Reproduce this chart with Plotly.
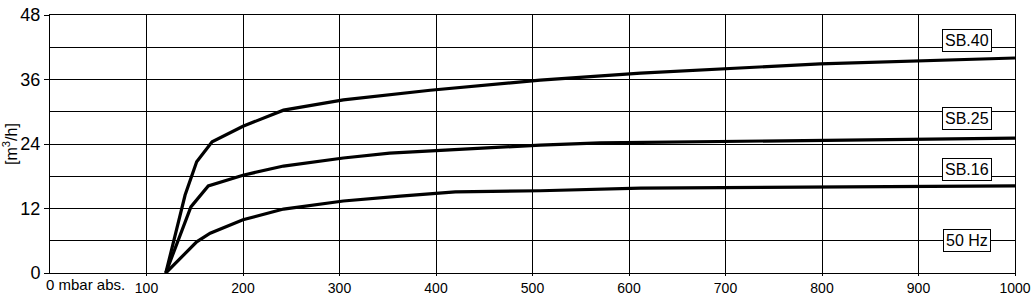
import plotly.graph_objects as go

# Data (pressure in mbar abs., flow in m3/h)
sb40_x = [120, 140, 152, 168, 200, 242, 304, 394, 508, 612, 798, 1000]
sb40_y = [0, 14.5, 20.7, 24.4, 27.3, 30.3, 32.2, 34.0, 35.9, 37.2, 38.9, 40.0]

sb25_x = [120, 146, 164, 200, 242, 304, 352, 508, 570, 1000]
sb25_y = [0, 12.3, 16.2, 18.2, 19.9, 21.4, 22.3, 23.8, 24.2, 25.1]

sb16_x = [120, 152, 166, 200, 242, 304, 363, 420, 508, 612, 1000]
sb16_y = [0, 5.8, 7.4, 9.9, 11.9, 13.4, 14.3, 15.1, 15.3, 15.8, 16.2]

labels = ["SB.40", "SB.25", "SB.16", "50 Hz"]
label_y = [43.3, 28.7, 19.2, 6.0]
label_x = 950

x_ticks = [100, 200, 300, 400, 500, 600, 700, 800, 900, 1000]
y_ticks = [0, 12, 24, 36, 48]

FONT = "Liberation Sans, Arial, sans-serif"
NARROW = "Liberation Sans Narrow, Arial Narrow, Liberation Sans, sans-serif"

fig = go.Figure()
for xs, ys in [(sb40_x, sb40_y), (sb25_x, sb25_y), (sb16_x, sb16_y)]:
    fig.add_trace(go.Scatter(x=xs, y=ys, mode="lines",
                             line=dict(color="black", width=3.2),
                             showlegend=False, hoverinfo="skip"))

for t, yy in zip(labels, label_y):
    fig.add_annotation(x=label_x, y=yy, text=t, showarrow=False,
                       font=dict(family=FONT, size=16, color="black"),
                       bgcolor="white", bordercolor="black", borderwidth=1, borderpad=2)

fig.add_annotation(x=0, y=0, xref="x", yref="y", text="0 mbar abs.",
                   showarrow=False, xanchor="left", yanchor="top",
                   xshift=-6, yshift=-1,
                   font=dict(family=FONT, size=15, color="black"))

fig.update_xaxes(range=[0, 1000], tickvals=x_ticks,
                 showgrid=True, gridcolor="black", gridwidth=1,
                 showline=True, linecolor="black", linewidth=1, mirror=True,
                 ticks="outside", ticklen=2, tickcolor="black",
                 tickfont=dict(family=FONT, size=14, color="black"),
                 ticklabeloverflow="allow",
                 zeroline=False, fixedrange=True, automargin=False)
fig.update_yaxes(range=[0, 48], tickvals=y_ticks,
                 showgrid=True, gridcolor="black", gridwidth=1,
                 minor=dict(dtick=6, showgrid=True, gridcolor="black", gridwidth=1, ticks=""),
                 showline=True, linecolor="black", linewidth=1, mirror=True,
                 ticks="outside", ticklen=5, tickcolor="black",
                 tickfont=dict(family=NARROW, size=18, color="black"),
                 title=dict(text="[m<sup>3</sup>/h]", standoff=8,
                            font=dict(family=NARROW, size=16, color="black")),
                 zeroline=False, fixedrange=True, automargin=False)

fig.update_layout(width=1033, height=296,
                  margin=dict(l=50, r=18, t=15, b=23),
                  paper_bgcolor="white", plot_bgcolor="white")

fig.write_html("out.html")
